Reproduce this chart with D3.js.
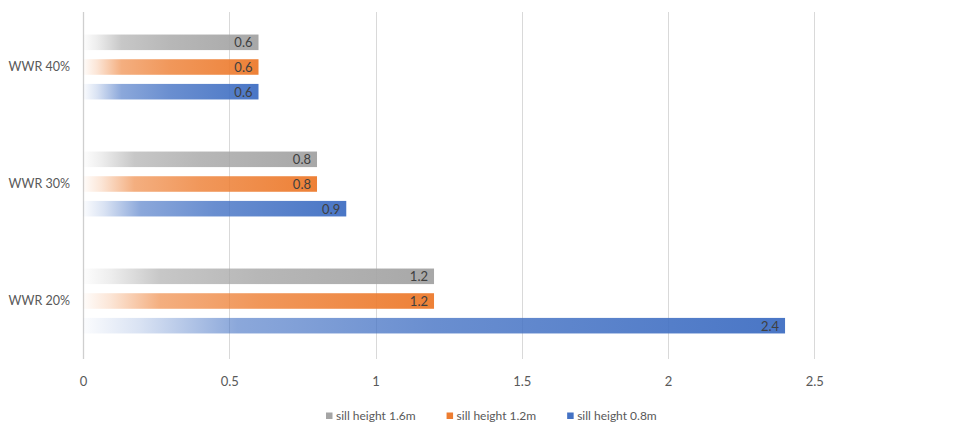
<!DOCTYPE html>
<html>
<head>
<meta charset="utf-8">
<script src="https://cdn.jsdelivr.net/npm/d3@7"></script>
<style>
  html, body { margin: 0; padding: 0; background: #fff; }
  svg { display: block; font-family: Lato, "Open Sans", sans-serif; }
</style>
</head>
<body>
<svg id="chart" width="953" height="426"></svg>
<script>
// Window-to-wall ratio groups, top to bottom
const categories = ["WWR 40%", "WWR 30%", "WWR 20%"];
// Series, drawn top to bottom within each group
const seriesNames = ["sill height 1.6m", "sill height 1.2m", "sill height 0.8m"];
const seriesColors = ["#a5a5a5", "#ed7d31", "#4472c4"];
// Values per series, in the order of categories
const sill16 = [0.6, 0.8, 1.2];
const sill12 = [0.6, 0.8, 1.2];
const sill08 = [0.6, 0.9, 2.4];
const seriesValues = [sill16, sill12, sill08];
const xTicks = [0, 0.5, 1, 1.5, 2, 2.5];

const svg = d3.select("#chart");
const plotLeft = 83, plotRight = 814.3, plotTop = 12, plotBottom = 359;

const x = d3.scaleLinear().domain([0, 2.5]).range([plotLeft, plotRight]);
const y = d3.scaleBand().domain(categories).range([8.5, 359.5])
  .paddingInner(0.367).paddingOuter(0.1835);
const y1 = d3.scaleBand().domain(seriesNames).range([0, y.bandwidth()])
  .paddingInner(0.37).paddingOuter(0.185);

// Gradients fading in from the axis towards the bar end
const defs = svg.append("defs");
seriesNames.forEach((s, i) => {
  const g = defs.append("linearGradient")
    .attr("id", "grad" + i)
    .attr("x1", "0").attr("x2", "1").attr("y1", "0").attr("y2", "0");
  [[0, 0.02], [0.08, 0.2], [0.22, 0.62], [0.5, 0.8], [1, 0.97]].forEach(([o, a]) => {
    g.append("stop").attr("offset", o).attr("stop-color", seriesColors[i]).attr("stop-opacity", a);
  });
});

// Vertical gridlines and bottom tick labels
const grid = svg.append("g");
grid.selectAll("line").data(xTicks).join("line")
  .attr("x1", d => Math.round(x(d)) + 0.5).attr("x2", d => Math.round(x(d)) + 0.5)
  .attr("y1", plotTop).attr("y2", plotBottom)
  .attr("stroke", d => d === 0 ? "#cfcfcf" : "#d9d9d9")
  .attr("stroke-width", d => d === 0 ? 1.3 : 1);

const xAxis = d3.axisBottom(x).tickValues(xTicks).tickFormat(d3.format("~")).tickSize(0).tickPadding(0);
const gx = svg.append("g").attr("transform", `translate(0, 386)`).call(xAxis);
gx.select(".domain").remove();
gx.selectAll("text").attr("font-size", 13).attr("fill", "#595959")
  .attr("font-family", "Lato, 'Open Sans', sans-serif").attr("dy", 0);

// Category labels
const yAxis = d3.axisLeft(y).tickSize(0).tickPadding(0);
const gy = svg.append("g").attr("transform", `translate(70, 0)`).call(yAxis);
gy.select(".domain").remove();
gy.selectAll("text").attr("font-size", 12.5).attr("fill", "#595959")
  .attr("font-family", "Lato, 'Open Sans', sans-serif");

// Bars
const rows = [];
categories.forEach((c, ci) => {
  seriesNames.forEach((s, si) => rows.push({ cat: c, series: s, si, value: seriesValues[si][ci] }));
});

const bars = svg.append("g");
bars.selectAll("rect").data(rows).join("rect")
  .attr("x", x(0))
  .attr("y", d => y(d.cat) + y1(d.series))
  .attr("width", d => x(d.value) - x(0))
  .attr("height", y1.bandwidth())
  .attr("fill", d => `url(#grad${d.si})`);

// Value labels at the end of each bar
bars.selectAll("text").data(rows).join("text")
  .attr("x", d => x(d.value) - 6)
  .attr("y", d => y(d.cat) + y1(d.series) + y1.bandwidth() / 2)
  .attr("dy", "0.38em")
  .attr("text-anchor", "end")
  .attr("font-size", 13)
  .attr("fill", "#404040")
  .text(d => d.value);

// Legend
const legend = svg.append("g");
let lx = 326;
seriesNames.forEach((s, i) => {
  const item = legend.append("g").attr("transform", `translate(${lx}, 0)`);
  item.append("rect").attr("x", 0).attr("y", 412.5).attr("width", 6.5).attr("height", 6.5)
    .attr("fill", seriesColors[i]);
  const t = item.append("text").attr("x", 10).attr("y", 419.5)
    .attr("font-size", 12).attr("fill", "#595959").text(s);
  lx += 10 + t.node().getComputedTextLength() + 31;
});
</script>
</body>
</html>
